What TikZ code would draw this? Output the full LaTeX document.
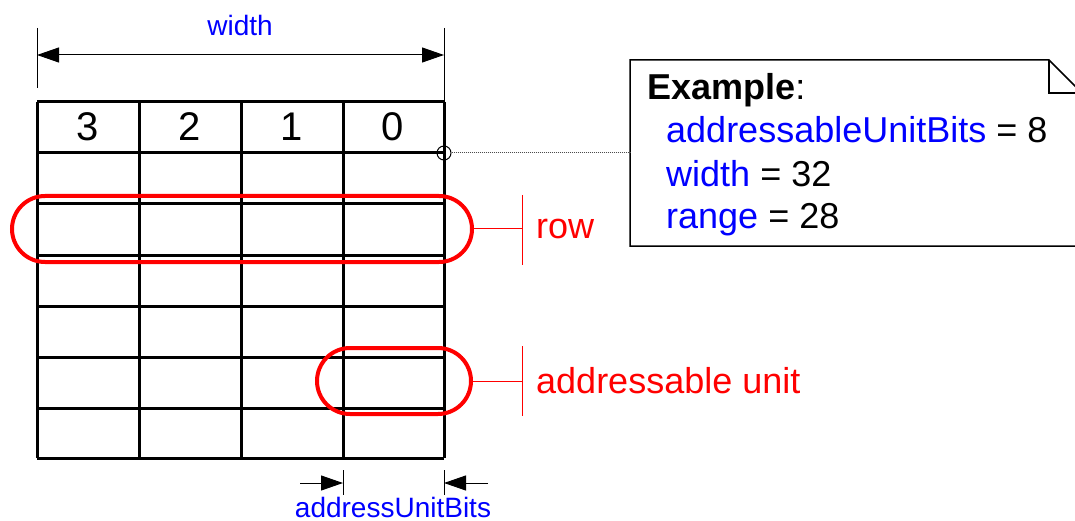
\documentclass[tikz,border=0pt]{standalone}
\usepackage{fontspec}
\setmainfont{Liberation Sans}
\usetikzlibrary{positioning,arrows.meta,calc}

\begin{document}
\begin{tikzpicture}[x=1pt,y=-1pt,
  dimarrow/.style={arrows={-Stealth[length=22pt,width=15pt,inset=0pt]}},
  dimarrows/.style={arrows={Stealth[length=22pt,width=15pt,inset=0pt]-Stealth[length=22pt,width=15pt,inset=0pt]}},
  cellline/.style={line width=3pt},
  thinline/.style={line width=1pt},
  oval/.style={draw=red,line width=4pt,rounded corners=33pt,minimum height=66pt,inner sep=0pt},
  callout/.style={font=\fontsize{36}{43}\selectfont,text=red,anchor=west,inner sep=0pt},
  notetext/.style={font=\fontsize{36}{43}\selectfont,anchor=base west,inner sep=0pt},
  dimtext/.style={font=\fontsize{28}{34}\selectfont,text=blue,inner sep=0pt}]
\useasboundingbox (0,0) rectangle (1075,521);

% memory grid
\foreach \x in {37,139,241,343,444}
  \draw[cellline] (\x,102) -- (\x,458);
\foreach \y in {102,153,204,255,306,357,408,458}
  \draw[cellline] (37,\y) -- (444,\y);
\foreach \d/\x in {3/88,2/190,1/292,0/393}
  \node[font=\fontsize{40}{48}\selectfont,inner sep=0pt] (d\d) at (\x,127) {\d};

% width dimension
\coordinate (wl) at (37,55);
\coordinate (wr) at (444,55);
\draw[thinline] (37,28) -- (37,88);
\draw[thinline] (444,28) -- (444,102);
\draw[thinline,dimarrows] (wl) -- (wr);
\node[dimtext] (wlbl) at (240,25) {width};

% row
\node[oval,minimum width=460pt] (rowov) at (242,229) {};
\coordinate (rowtick) at (522,229);
\draw[red,thinline] (rowov.east) -- (rowtick);
\draw[red,thinline] (522,195) -- (522,265);
\node[callout] (rowlbl) at (536,229) {row};

% addressable unit
\node[oval,minimum width=154pt] (unitov) at (394,381) {};
\coordinate (unittick) at (522,381);
\draw[red,thinline] (unitov.east) -- (unittick);
\draw[red,thinline] (522,346) -- (522,416);
\node[callout] (unitlbl) at (536,381) {addressable unit};

% addressUnitBits dimension
\coordinate (bl0) at (300,483);
\coordinate (bl1) at (343,483);
\coordinate (br0) at (488,483);
\coordinate (br1) at (444,483);
\draw[thinline] (343,470) -- (343,495);
\draw[thinline] (444,470) -- (444,495);
\draw[thinline,dimarrow] (bl0) -- (bl1);
\draw[thinline,dimarrow] (br0) -- (br1);
\node[dimtext] (blbl) at (393,507) {addressUnitBits};

% note
\draw[line width=1.5pt,fill=white] (630,60) -- (1049,60) -- (1082,93) -- (1082,246) -- (630,246) -- cycle;
\draw[line width=1.5pt] (1049,60) -- (1049,93) -- (1082,93);
\node[notetext] (exhead) at (647,100) {\textbf{Example}:};
\node[notetext] (exunit) at (666,143) {\textcolor{blue}{addressableUnitBits} = 8};
\node[notetext] (exwidth) at (666,187) {\textcolor{blue}{width} = 32};
\node[notetext] (exrange) at (666,229) {\textcolor{blue}{range} = 28};

% anchor pin
\node[draw,circle,thinline,minimum size=14pt,inner sep=0pt] (pin) at (444,153) {};
\coordinate (notew) at (630,153);
\draw[thinline,densely dotted,black!70] (pin) -- (notew);
\end{tikzpicture}
\end{document}
